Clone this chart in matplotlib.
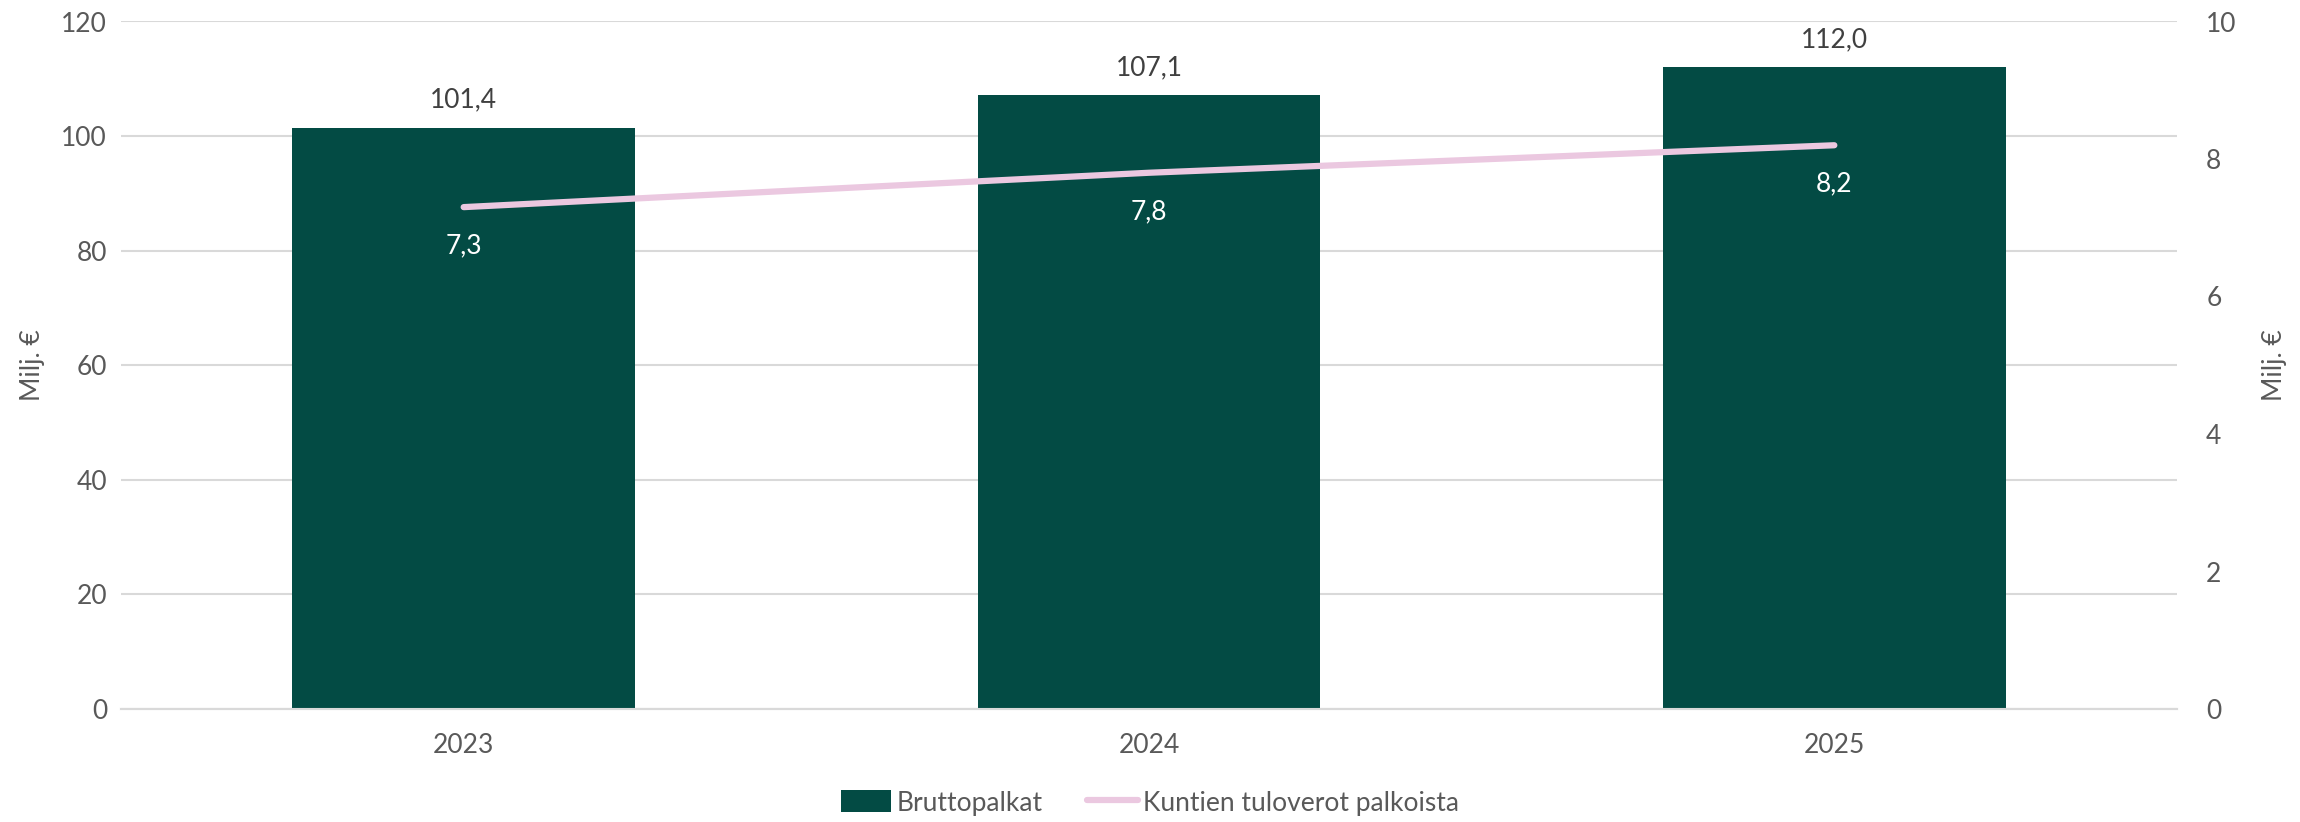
import matplotlib.pyplot as plt
import numpy as np

# Data
years = ["2023", "2024", "2025"]
bruttopalkat = [101.4, 107.1, 112.0]
tuloverot = [7.3, 7.8, 8.2]
left_ticks = [0, 20, 40, 60, 80, 100, 120]
right_ticks = [0, 2, 4, 6, 8, 10]

BAR_COLOR = "#034B44"
LINE_COLOR = "#EBC8E0"
TEXT_COLOR = "#595959"
LABEL_COLOR = "#404040"
GRID_COLOR = "#D9D9D9"


def fmt(v):
    return f"{v:.1f}".replace(".", ",")


def main():
    plt.rcParams["font.family"] = ["Lato", "DejaVu Sans"]
    fig = plt.figure(figsize=(23, 8.22), dpi=100)
    ax = fig.add_axes([121 / 2300, 1 - 709 / 822, (2177 - 121) / 2300, (709 - 21.5) / 822])
    ax2 = ax.twinx()

    x = np.arange(len(years))
    bars = ax.bar(x, bruttopalkat, width=0.5, color=BAR_COLOR, zorder=3,
                  label="Bruttopalkat")
    line, = ax2.plot(x, tuloverot, color=LINE_COLOR, linewidth=4.5,
                     solid_capstyle="round", label="Kuntien tuloverot palkoista")

    ax.set_xlim(-0.5, len(years) - 0.5)
    ax.set_ylim(0, 120)
    ax2.set_ylim(0, 10)
    ax.set_yticks(left_ticks)
    ax2.set_yticks(right_ticks)
    ax.set_xticks(x)
    ax.set_xticklabels(years)

    ax.yaxis.grid(True, color=GRID_COLOR, linewidth=1.5, zorder=0)
    ax.set_axisbelow(True)
    for a in (ax, ax2):
        for side in ("top", "left", "right"):
            a.spines[side].set_visible(False)
        a.spines["bottom"].set_color(GRID_COLOR)
        a.spines["bottom"].set_linewidth(1.5)
        a.tick_params(length=0, labelsize=19, labelcolor=TEXT_COLOR)
    ax.tick_params(axis="x", pad=17)
    ax.tick_params(axis="y", pad=10)
    ax2.tick_params(axis="y", pad=21)

    ax.set_ylabel("Milj. €", fontsize=19, color=TEXT_COLOR, labelpad=12)
    ax2.set_ylabel("Milj. €", fontsize=19, color=TEXT_COLOR, rotation=90, labelpad=18)

    # Data labels
    for xi, v in zip(x, bruttopalkat):
        ax.annotate(fmt(v), (xi, v), xytext=(0, 11), textcoords="offset points",
                    ha="center", va="bottom", fontsize=19, color=LABEL_COLOR)
    for xi, v in zip(x, tuloverot):
        ax2.annotate(fmt(v), (xi, v), xytext=(0, -19), textcoords="offset points",
                     ha="center", va="top", fontsize=19, color="white")

    fig.legend([bars, line], ["Bruttopalkat", "Kuntien tuloverot palkoista"],
               loc="center", bbox_to_anchor=(0.5, 1 - 803 / 822), ncol=2,
               frameon=False, fontsize=19, labelcolor=TEXT_COLOR,
               handlelength=1.9, handleheight=0.9, columnspacing=1.7,
               handletextpad=0.2)

    fig.savefig("out.png", dpi=100)


if __name__ == "__main__":
    main()
